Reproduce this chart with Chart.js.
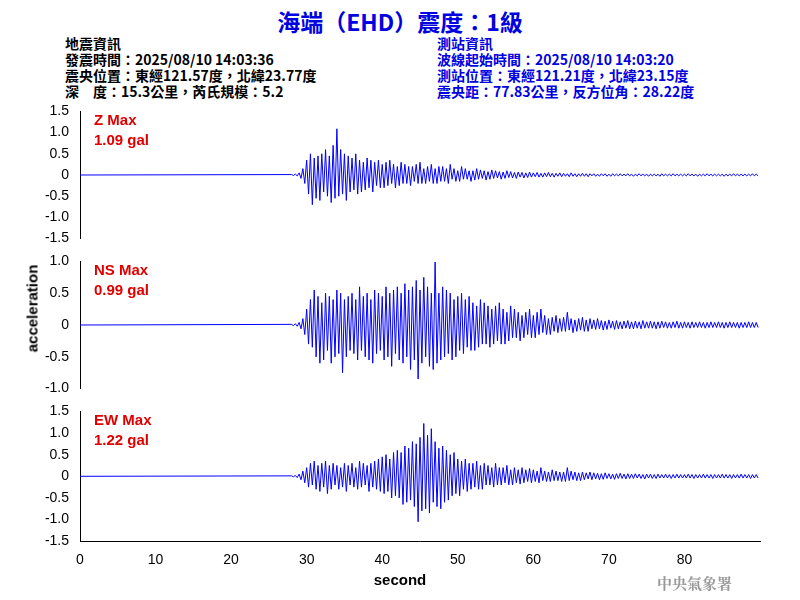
<!DOCTYPE html>
<html><head><meta charset="utf-8">
<script src="https://cdn.jsdelivr.net/npm/chart.js@4"></script>
<style>
body{margin:0;width:800px;height:600px;background:#fff;position:relative;font-family:Arial,"Liberation Sans","Noto Sans CJK TC",sans-serif;overflow:hidden}
.t{position:absolute;white-space:nowrap}
.h{font:bold 14px "Noto Sans CJK TC",Arial;line-height:16px}
.p{position:absolute;left:30px;width:740px}
.red{color:#e00000;font:bold 15px Arial;line-height:20px}
</style></head><body>
<div class="t" style="left:0;width:800px;top:4px;text-align:center;color:#0000e0;font:bold 23px 'Noto Sans CJK TC',Arial">海端（EHD）震度：1級</div>
<div class="t h" style="left:65px;top:35px">地震資訊<br>發震時間：2025/08/10 14:03:36<br>震央位置：東經121.57度，北緯23.77度<br>深　度：15.3公里，芮氏規模：5.2</div>
<div class="t h" style="left:437px;top:35px;color:#0000e0">測站資訊<br>波線起始時間：2025/08/10 14:03:20<br>測站位置：東經121.21度，北緯23.15度<br>震央距：77.83公里，反方位角：28.22度</div>
<div class="p" style="top:100px;height:150px"><canvas id="cZ"></canvas></div>
<div class="p" style="top:250px;height:150px"><canvas id="cNS"></canvas></div>
<div class="p" style="top:400px;height:172px"><canvas id="cEW"></canvas></div>
<div class="t red" style="left:94px;top:110px">Z Max<br>1.09 gal</div>
<div class="t red" style="left:94px;top:260px">NS Max<br>0.99 gal</div>
<div class="t red" style="left:94px;top:410px">EW Max<br>1.22 gal</div>
<div class="t" style="top:300px;transform:translate(-50%,0) rotate(-90deg);transform-origin:center;font:bold 15px Arial;left:32px">acceleration</div>
<div class="t" style="left:0;width:800px;text-align:center;top:571px;font:bold 15px Arial">second</div>
<div class="t" style="left:657px;top:572px;color:#999;font:bold 15px 'Noto Serif CJK TC','Noto Sans CJK TC'">中央氣象署</div>
<script>
// sampled every 0.25 s starting at 28 s
const startTime = 28, step = 0.25;
const zValues = [
0.01,-0.01,0.02,-0.02, 0.05,-0.08,0.15,-0.2, 0.35,-0.45,0.5,-0.7, 0.4,-0.55,0.45,-0.6,
0.5,-0.4,0.6,-0.5, 0.45,-0.65,0.7,-0.55, 1.09,-0.5,0.6,-0.45, 0.5,-0.6,0.45,-0.4,
0.4,-0.35,0.5,-0.45, 0.35,-0.4,0.3,-0.35, 0.4,-0.3,0.35,-0.4, 0.3,-0.25,0.35,-0.3,
0.25,-0.3,0.3,-0.25, 0.35,-0.2,0.25,-0.3, 0.2,-0.25,0.3,-0.2, 0.25,-0.2,0.2,-0.25,
0.2,-0.15,0.25,-0.2, 0.3,-0.2,0.15,-0.2, 0.2,-0.15,0.25,-0.2, 0.15,-0.2,0.2,-0.15,
0.2,-0.15,0.15,-0.2, 0.25,-0.1,0.15,-0.15, 0.1,-0.15,0.2,-0.1, 0.15,-0.1,0.1,-0.15,
0.1,-0.12,0.15,-0.1, 0.12,-0.08,0.1,-0.12, 0.08,-0.1,0.12,-0.08, 0.1,-0.07,0.08,-0.1,
0.07,-0.08,0.1,-0.06, 0.08,-0.07,0.06,-0.08, 0.07,-0.05,0.06,-0.07, 0.05,-0.06,0.07,-0.05,
0.05,-0.04,0.06,-0.05, 0.04,-0.05,0.05,-0.04, 0.06,-0.04,0.04,-0.05, 0.04,-0.03,0.05,-0.04,
0.04,-0.03,0.03,-0.04, 0.05,-0.03,0.03,-0.04, 0.03,-0.03,0.04,-0.03, 0.03,-0.04,0.03,-0.02,
0.03,-0.03,0.02,-0.03, 0.03,-0.02,0.03,-0.03, 0.02,-0.03,0.03,-0.02, 0.02,-0.02,0.03,-0.02,
0.02,-0.02,0.03,-0.02, 0.02,-0.03,0.02,-0.02, 0.03,-0.02,0.02,-0.02, 0.02,-0.03,0.02,-0.02,
0.02,-0.02,0.02,-0.03, 0.03,-0.02,0.02,-0.02, 0.02,-0.02,0.03,-0.02, 0.02,-0.02,0.02,-0.02,
0.02,-0.02,0.03,-0.02, 0.02,-0.02,0.02,-0.03, 0.02,-0.02,0.02,-0.02, 0.03,-0.02,0.02,-0.02,
0.02,-0.02,0.02,-0.02, 0.02,-0.03,0.02,-0.02, 0.02,-0.02,0.03,-0.02, 0.02,-0.02,0.02,-0.02,
0.02,-0.02,0.02,-0.02, 0.03,-0.02,0.02,-0.02
];
const nsValues = [
0.01,-0.01,0.02,-0.02, 0.04,-0.06,0.1,-0.15, 0.25,-0.3,0.4,-0.35, 0.55,-0.5,0.45,-0.6,
0.35,-0.55,0.5,-0.4, 0.45,-0.6,0.4,-0.5, 0.55,-0.45,0.5,-0.75, 0.4,-0.5,0.45,-0.4,
0.5,-0.45,0.4,-0.55, 0.6,-0.4,0.45,-0.5, 0.5,-0.55,0.4,-0.6, 0.55,-0.45,0.5,-0.4,
0.45,-0.55,0.6,-0.5, 0.5,-0.65,0.55,-0.45, 0.6,-0.55,0.5,-0.6, 0.65,-0.5,0.55,-0.7,
0.6,-0.55,0.7,-0.85, 0.55,-0.6,0.75,-0.5, 0.6,-0.65,0.5,-0.7, 0.99,-0.6,0.5,-0.55,
0.6,-0.5,0.55,-0.45, 0.5,-0.55,0.4,-0.5, 0.45,-0.4,0.5,-0.45, 0.4,-0.35,0.45,-0.4,
0.35,-0.4,0.3,-0.35, 0.4,-0.3,0.35,-0.3, 0.3,-0.35,0.25,-0.3, 0.3,-0.25,0.35,-0.3,
0.25,-0.3,0.2,-0.25, 0.3,-0.2,0.25,-0.2, 0.2,-0.25,0.15,-0.2, 0.2,-0.15,0.25,-0.2,
0.15,-0.2,0.2,-0.15, 0.25,-0.12,0.15,-0.15, 0.1,-0.15,0.12,-0.1, 0.15,-0.12,0.1,-0.1,
0.12,-0.1,0.2,-0.08, 0.1,-0.12,0.08,-0.1, 0.1,-0.08,0.12,-0.1, 0.08,-0.1,0.1,-0.06,
0.08,-0.07,0.1,-0.06, 0.07,-0.08,0.06,-0.07, 0.08,-0.05,0.06,-0.07, 0.07,-0.06,0.05,-0.06,
0.06,-0.05,0.07,-0.06, 0.05,-0.06,0.06,-0.05, 0.05,-0.06,0.07,-0.05, 0.05,-0.05,0.06,-0.05,
0.05,-0.06,0.05,-0.05, 0.06,-0.04,0.05,-0.05, 0.04,-0.05,0.05,-0.04, 0.06,-0.05,0.04,-0.05,
0.05,-0.04,0.04,-0.05, 0.05,-0.04,0.04,-0.04, 0.05,-0.04,0.04,-0.05, 0.04,-0.04,0.05,-0.04,
0.04,-0.04,0.05,-0.04, 0.04,-0.05,0.04,-0.04, 0.05,-0.04,0.04,-0.04, 0.04,-0.05,0.04,-0.04,
0.04,-0.04,0.05,-0.04, 0.04,-0.04,0.04,-0.04
];
const ewValues = [
0.01,-0.01,0.02,-0.03, 0.05,-0.08,0.12,-0.15, 0.2,-0.25,0.3,-0.2, 0.35,-0.3,0.25,-0.35,
0.3,-0.25,0.35,-0.4, 0.25,-0.3,0.3,-0.2, 0.25,-0.3,0.2,-0.25, 0.3,-0.35,0.25,-0.2,
0.3,-0.25,0.2,-0.3, 0.35,-0.25,0.3,-0.2, 0.25,-0.35,0.3,-0.25, 0.35,-0.3,0.4,-0.35,
0.45,-0.4,0.5,-0.35, 0.4,-0.5,0.55,-0.45, 0.6,-0.5,0.55,-0.65, 0.7,-0.6,0.65,-0.55,
0.8,-0.7,0.75,-1.05, 0.9,-0.8,1.22,-0.75, 0.95,-0.85,1.1,-0.6, 0.8,-0.7,0.65,-0.75,
0.7,-0.6,0.6,-0.55, 0.5,-0.45,0.55,-0.4, 0.4,-0.45,0.35,-0.3, 0.4,-0.35,0.3,-0.3,
0.3,-0.25,0.35,-0.3, 0.25,-0.3,0.3,-0.2, 0.25,-0.2,0.2,-0.25, 0.3,-0.2,0.2,-0.2,
0.2,-0.15,0.25,-0.2, 0.15,-0.2,0.2,-0.15, 0.15,-0.18,0.2,-0.15, 0.15,-0.12,0.18,-0.15,
0.15,-0.12,0.12,-0.15, 0.2,-0.1,0.12,-0.12, 0.1,-0.12,0.15,-0.1, 0.12,-0.1,0.1,-0.12,
0.1,-0.12,0.2,-0.1, 0.12,-0.08,0.1,-0.1, 0.08,-0.1,0.1,-0.08, 0.08,-0.06,0.1,-0.08,
0.08,-0.06,0.07,-0.08, 0.06,-0.07,0.08,-0.05, 0.06,-0.06,0.05,-0.07, 0.06,-0.05,0.07,-0.05,
0.05,-0.06,0.06,-0.05, 0.05,-0.05,0.06,-0.04, 0.05,-0.05,0.04,-0.06, 0.05,-0.04,0.05,-0.05,
0.04,-0.05,0.05,-0.04, 0.04,-0.04,0.05,-0.04, 0.04,-0.05,0.04,-0.04, 0.05,-0.04,0.04,-0.04,
0.04,-0.04,0.05,-0.04, 0.04,-0.05,0.04,-0.04, 0.04,-0.04,0.05,-0.04, 0.04,-0.04,0.04,-0.05,
0.04,-0.04,0.04,-0.04, 0.05,-0.04,0.04,-0.04, 0.04,-0.05,0.04,-0.04, 0.04,-0.04,0.05,-0.04,
0.04,-0.04,0.04,-0.05, 0.04,-0.04,0.04,-0.04
];
const xTicks = [0,10,20,30,40,50,60,70,80];

function toPoints(vals){
  const pts = [{x:0,y:0}];
  vals.forEach((v,i)=>pts.push({x:startTime+i*step,y:v}));
  return pts;
}
const tickFont = {family:'Arial',size:14};
function makeChart(id, vals, lim, showX){
  new Chart(document.getElementById(id), {
    type:'line',
    data:{datasets:[{data:toPoints(vals),borderColor:'#0000ff',borderWidth:1,pointRadius:0,tension:0}]},
    options:{
      responsive:true,maintainAspectRatio:false,animation:false,
      layout:{padding:{top:0,bottom:0,right:10}},
      plugins:{legend:{display:false},tooltip:{enabled:false}},
      scales:{
        x:{type:'linear',min:0,max:90,display:showX,
           grid:{display:false,drawTicks:true},border:{color:'#000'},
           afterBuildTicks:s=>{s.ticks=xTicks.map(v=>({value:v}));},
           ticks:{color:'#000',font:tickFont}},
        y:{min:-lim,max:lim,grid:{display:false},border:{color:'#000'},
           afterFit:s=>{s.width=50;},
           ticks:{stepSize:0.5,color:'#000',font:tickFont}}
      }
    }
  });
}
makeChart('cZ', zValues, 1.5, false);
makeChart('cNS', nsValues, 1, false);
makeChart('cEW', ewValues, 1.5, true);
</script>
</body></html>
